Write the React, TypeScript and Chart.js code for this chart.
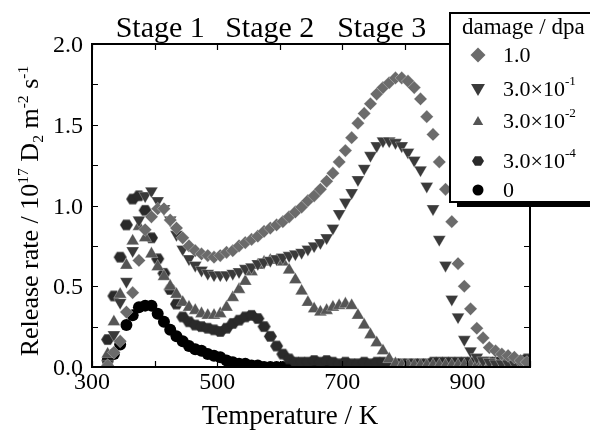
import React, { useEffect, useRef } from "react";
import { Chart, registerables } from "chart.js";

Chart.register(...registerables);

// Temperature (K)
const temperatures = [
  325, 335, 345, 355, 365, 375, 385, 395, 405, 415, 425, 435, 445, 455, 465, 475, 485,
  495, 505, 515, 525, 535, 545, 555, 565, 575, 585, 595, 605, 615, 625, 635, 645, 655,
  665, 675, 685, 695, 705, 715, 725, 735, 745, 755, 765, 775, 785, 795, 805, 815, 825,
  835, 845, 855, 865, 875, 885, 895, 905, 915, 925, 935, 945, 955, 965, 975, 985, 995,
];

// Release rate (10^17 D2 m^-2 s^-1)
const rateDpa1 = [
  0.01, 0.09, 0.16, 0.34, 0.46, 0.66, 0.85, 0.93, 0.98, 0.98, 0.91, 0.86, 0.8, 0.75, 0.72, 0.7, 0.69,
  0.68, 0.69, 0.71, 0.72, 0.75, 0.77, 0.79, 0.81, 0.84, 0.86, 0.88, 0.9, 0.93, 0.96, 0.99, 1.03, 1.06,
  1.1, 1.15, 1.2, 1.27, 1.34, 1.42, 1.51, 1.57, 1.63, 1.69, 1.73, 1.76, 1.79, 1.79, 1.77, 1.73, 1.66,
  1.55, 1.44, 1.27, 1.1, 0.9, 0.64, 0.5, 0.36, 0.24, 0.18, 0.12, 0.1, 0.08, 0.07, 0.06, 0.04, 0.03,
];
const rateDpa3e1 = [
  0.02, 0.2, 0.4, 0.53, 0.72, 0.91, 1.06, 1.09, 1.03, 0.98, 0.91, 0.82, 0.73, 0.67, 0.63, 0.6, 0.58,
  0.57, 0.57, 0.57, 0.58, 0.59, 0.61, 0.62, 0.64, 0.65, 0.66, 0.67, 0.68, 0.69, 0.7, 0.71, 0.73, 0.75,
  0.77, 0.8, 0.86, 0.95, 1.02, 1.08, 1.16, 1.23, 1.31, 1.37, 1.4, 1.4, 1.39, 1.37, 1.33, 1.28, 1.22,
  1.12, 0.98, 0.79, 0.63, 0.42, 0.31, 0.17, 0.1, 0.06, 0.04, 0.03, 0.02, 0.02, 0.02, 0.02, 0.02, 0.02,
];
const rateDpa3e2 = [
  0.08, 0.28, 0.45, 0.63, 0.78, 0.87, 0.8, 0.7, 0.62, 0.56, 0.5, 0.45, 0.4, 0.37, 0.35, 0.33, 0.32,
  0.32, 0.33, 0.37, 0.43, 0.48, 0.53, 0.59, 0.63, 0.65, 0.66, 0.66, 0.65, 0.6, 0.54, 0.47, 0.4, 0.36,
  0.34, 0.35, 0.37, 0.38, 0.39, 0.38, 0.32, 0.26, 0.2, 0.15, 0.1, 0.05, 0.02, 0.01, 0.01, 0.01, 0.01,
  0.01, 0.01, 0.01, 0.01, 0.01, 0.01, 0.01, 0.01, 0.01, 0.01, 0.01, 0.01, 0.01, 0.01, 0.01, 0.01, 0.01,
];
const rateDpa3e4 = [
  0.17, 0.44, 0.68, 0.88, 1.04, 1.06, 0.97, 0.8, 0.67, 0.58, 0.48, 0.39, 0.31, 0.28, 0.26, 0.25, 0.24,
  0.23, 0.22, 0.24, 0.27, 0.29, 0.31, 0.32, 0.3, 0.25, 0.19, 0.13, 0.08, 0.05, 0.03, 0.03, 0.03, 0.04,
  0.03, 0.04, 0.03, 0.02, 0.03, 0.02, 0.02, 0.03, 0.02, 0.03, 0.03, 0.02, 0.02, 0.02, 0.02, 0.02, 0.02,
  0.02, 0.03, 0.03, 0.03, 0.03, 0.03, 0.03, 0.03, 0.03, 0.03, 0.03, 0.03, 0.04, 0.04, 0.04, 0.04, 0.05,
];
const rateDpa0 = [
  0.04, 0.08, 0.14, 0.26, 0.32, 0.37, 0.38, 0.38, 0.33, 0.28, 0.23, 0.19, 0.16, 0.13, 0.11, 0.1, 0.08,
  0.07, 0.06, 0.04, 0.03, 0.02, 0.02, 0.01, 0.01, 0.0, 0.0, 0.0, 0.0, 0.0, 0.0, 0.0, 0.0, 0.0,
  0.0, 0.0, 0.0, 0.0, 0.0, 0.0, 0.0, 0.0, 0.0, 0.0, 0.0, 0.0, 0.0, 0.0, 0.0, 0.0, 0.0,
  0.0, 0.0, 0.0, 0.0, 0.0, 0.0, 0.0, 0.0, 0.0, 0.0, 0.0, 0.0, 0.0, 0.0, 0.0, 0.0, 0.0,
];

const seriesLabels = ["1.0", "3.0×10^-1", "3.0×10^-2", "3.0×10^-4", "0"];
const seriesValues = [rateDpa1, rateDpa3e1, rateDpa3e2, rateDpa3e4, rateDpa0];
const seriesColors = ["#6b6b6b", "#3a3a3a", "#555555", "#2a2a2a", "#000000"];
const seriesShapes = ["diamond", "down", "up", "hexagon", "circle"];

const xTickValues = [300, 500, 700, 900];
const yTickValues = [0, 0.5, 1.0, 1.5, 2.0];
const xMinorTicks = [300, 400, 500, 600, 700, 800, 900, 1000];
const yMinorTicks = [0, 0.25, 0.5, 0.75, 1.0, 1.25, 1.5, 1.75, 2.0];

const stageLabels = ["Stage 1", "Stage 2", "Stage 3"];
const stageCenters = [409, 584, 763];

const legendTitle = "damage / dpa";
const xTitle = "Temperature / K";
const yTitleParts: { t: string; k: "n" | "sup" | "sub" }[] = [
  { t: "Release rate / 10", k: "n" },
  { t: "17", k: "sup" },
  { t: " D", k: "n" },
  { t: "2", k: "sub" },
  { t: " m", k: "n" },
  { t: "-2", k: "sup" },
  { t: " s", k: "n" },
  { t: "-1", k: "sup" },
];

const SERIF = "'Liberation Serif', serif";

function shapePath(ctx: CanvasRenderingContext2D, shape: string, x: number, y: number, r: number) {
  ctx.beginPath();
  if (shape === "diamond") {
    ctx.moveTo(x, y - r);
    ctx.lineTo(x + r, y);
    ctx.lineTo(x, y + r);
    ctx.lineTo(x - r, y);
    ctx.closePath();
  } else if (shape === "down") {
    ctx.moveTo(x - r * 0.866, y - r * 0.5);
    ctx.lineTo(x + r * 0.866, y - r * 0.5);
    ctx.lineTo(x, y + r);
    ctx.closePath();
  } else if (shape === "up") {
    ctx.moveTo(x - r * 0.866, y + r * 0.5);
    ctx.lineTo(x + r * 0.866, y + r * 0.5);
    ctx.lineTo(x, y - r);
    ctx.closePath();
  } else if (shape === "hexagon") {
    for (let i = 0; i < 6; i++) {
      const a = (i * Math.PI) / 3;
      const px = x + r * Math.cos(a);
      const py = y + r * 0.92 * Math.sin(a);
      if (i === 0) ctx.moveTo(px, py);
      else ctx.lineTo(px, py);
    }
    ctx.closePath();
  } else {
    ctx.arc(x, y, r, 0, Math.PI * 2);
  }
}

function hexImage(color: string, r: number) {
  const c = document.createElement("canvas");
  const s = Math.ceil(r * 2) + 2;
  c.width = s;
  c.height = s;
  const ctx = c.getContext("2d")!;
  ctx.fillStyle = color;
  shapePath(ctx, "hexagon", s / 2, s / 2, r);
  ctx.fill();
  return c;
}

function drawMixed(
  ctx: CanvasRenderingContext2D,
  parts: { t: string; k: string }[],
  x: number,
  y: number,
  size: number,
  measureOnly = false
) {
  let cx = x;
  for (const p of parts) {
    const fs = p.k === "n" ? size : size * 0.6;
    ctx.font = `${fs}px ${SERIF}`;
    const dy = p.k === "sup" ? -size * 0.38 : p.k === "sub" ? size * 0.2 : 0;
    if (!measureOnly) ctx.fillText(p.t, cx, y + dy);
    cx += ctx.measureText(p.t).width;
  }
  return cx - x;
}

function parseLabel(label: string) {
  const i = label.indexOf("^");
  if (i < 0) return [{ t: label, k: "n" }];
  return [
    { t: label.slice(0, i), k: "n" },
    { t: label.slice(i + 1), k: "sup" },
  ];
}

const decorPlugin = {
  id: "decor",
  afterDatasetsDraw(chart: any) {
    const { ctx, chartArea: a, scales } = chart;
    const xs = scales.x;
    const ys = scales.y;
    ctx.save();
    ctx.strokeStyle = "#000";
    ctx.lineWidth = 2;
    ctx.strokeRect(a.left, a.top, a.right - a.left, a.bottom - a.top);
    ctx.lineWidth = 1.2;
    const tl = 6;
    ctx.beginPath();
    for (const v of xMinorTicks) {
      const px = Math.round(xs.getPixelForValue(v)) + 0.5;
      ctx.moveTo(px, a.bottom);
      ctx.lineTo(px, a.bottom - tl);
      ctx.moveTo(px, a.top);
      ctx.lineTo(px, a.top + tl);
    }
    for (const v of yMinorTicks) {
      const py = Math.round(ys.getPixelForValue(v)) + 0.5;
      ctx.moveTo(a.left, py);
      ctx.lineTo(a.left + tl, py);
      ctx.moveTo(a.right, py);
      ctx.lineTo(a.right - tl, py);
    }
    ctx.stroke();

    // tick labels
    ctx.fillStyle = "#000";
    ctx.font = `24px ${SERIF}`;
    ctx.textBaseline = "alphabetic";
    ctx.textAlign = "center";
    for (const v of xTickValues) {
      ctx.fillText(String(v), xs.getPixelForValue(v), a.bottom + 22);
    }
    ctx.textAlign = "right";
    for (const v of yTickValues) {
      ctx.fillText(v.toFixed(1), a.left - 9, ys.getPixelForValue(v) + 8);
    }
    ctx.restore();
  },
  afterDraw(chart: any) {
    const { ctx, chartArea: a, scales } = chart;
    const xs = scales.x;
    ctx.save();
    ctx.fillStyle = "#000";
    ctx.textBaseline = "alphabetic";

    // stage labels
    ctx.font = `30px ${SERIF}`;
    ctx.textAlign = "center";
    stageLabels.forEach((s, i) => {
      ctx.fillText(s, xs.getPixelForValue(stageCenters[i]), a.top - 7);
    });

    // x title
    ctx.font = `27px ${SERIF}`;
    ctx.fillText(xTitle, 290, 424);

    // y title (rotated)
    ctx.textAlign = "left";
    const ySize = 26;
    const w = drawMixed(ctx, yTitleParts, 0, 0, ySize, true);
    ctx.save();
    ctx.translate(38, 211 + w / 2);
    ctx.rotate(-Math.PI / 2);
    drawMixed(ctx, yTitleParts, 0, 0, ySize);
    ctx.restore();

    // legend box
    const bx = 450, by = 13, bw = 160, bh = 189;
    ctx.fillStyle = "#fff";
    ctx.fillRect(bx, by, bw, bh);
    ctx.strokeStyle = "#000";
    ctx.lineWidth = 2;
    ctx.strokeRect(bx, by, bw, bh);
    ctx.fillStyle = "#000";
    ctx.fillRect(bx + 7, by + bh, bw, 5);

    ctx.font = `23px ${SERIF}`;
    ctx.textBaseline = "middle";
    ctx.fillText(legendTitle, 462, 28);
    const rowY = [55, 89, 121, 161, 190];
    const markR = [7.5, 8, 6, 6, 5.5];
    seriesLabels.forEach((lab, i) => {
      ctx.fillStyle = seriesColors[i];
      shapePath(ctx, seriesShapes[i], 478, rowY[i] + (seriesShapes[i] === "down" ? -1 : seriesShapes[i] === "up" ? 1 : 0), markR[i]);
      ctx.fill();
      ctx.fillStyle = "#000";
      drawMixed(ctx, parseLabel(lab), 503, rowY[i] + 1, 22);
    });
    ctx.restore();
  },
};

export default function App() {
  const ref = useRef<HTMLCanvasElement | null>(null);
  useEffect(() => {
    if (!ref.current) return;
    const pointStyles: any[] = [
      "rectRot",
      "triangle",
      "triangle",
      hexImage(seriesColors[3], 6.5),
      "circle",
    ];
    const radii = [6.6, 7.4, 7.4, 6.5, 6];
    const datasets = seriesLabels.map((lab, i) => ({
      label: lab,
      data: temperatures.map((t, j) => ({ x: t, y: seriesValues[i][j] })),
      showLine: false,
      pointStyle: pointStyles[i],
      pointRotation: seriesShapes[i] === "down" ? 180 : 0,
      pointRadius: radii[i],
      pointBackgroundColor: seriesColors[i],
      pointBorderColor: i < 3 ? "rgba(255,255,255,0.6)" : seriesColors[i],
      pointBorderWidth: i < 3 ? 0.5 : 0,
    }));
    const chart = new Chart(ref.current, {
      type: "scatter",
      data: { datasets },
      plugins: [decorPlugin],
      options: {
        animation: false,
        responsive: false,
        devicePixelRatio: 1,
        layout: { padding: { left: 0, top: 44, right: 60, bottom: 0 } },
        plugins: { legend: { display: false }, tooltip: { enabled: false } },
        scales: {
          x: {
            type: "linear",
            min: 300,
            max: 1000,
            afterBuildTicks: (s: any) => {
              s.ticks = xTickValues.map((v) => ({ value: v }));
            },
            afterFit: (s: any) => {
              s.height = 63;
            },
            ticks: { display: false },
            grid: { display: false, drawTicks: false },
            border: { display: false },
          },
          y: {
            type: "linear",
            min: 0,
            max: 2,
            afterBuildTicks: (s: any) => {
              s.ticks = yTickValues.map((v) => ({ value: v }));
            },
            afterFit: (s: any) => {
              s.width = 92;
            },
            ticks: { display: false },
            grid: { display: false, drawTicks: false },
            border: { display: false },
          },
        },
      } as any,
    });
    return () => chart.destroy();
  }, []);
  return (
    <div style={{ position: "absolute", left: 0, top: 0, width: 590, height: 430, background: "#fff" }}>
      <canvas ref={ref} width={590} height={430} style={{ display: "block", width: 590, height: 430 }} />
    </div>
  );
}
